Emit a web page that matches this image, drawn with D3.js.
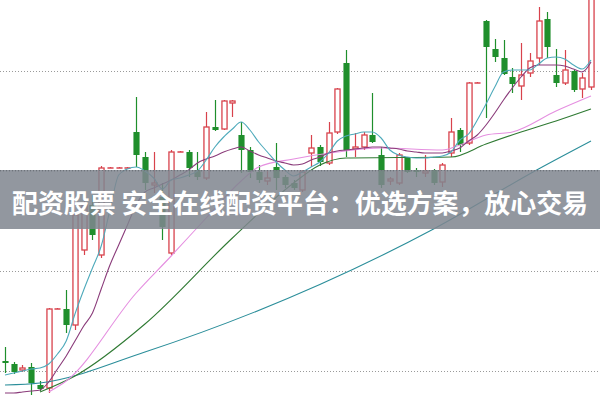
<!DOCTYPE html>
<html><head><meta charset="utf-8">
<script src="https://cdn.jsdelivr.net/npm/d3@7"></script>
<style>html,body{margin:0;padding:0;background:#fff;overflow:hidden}</style>
</head><body><svg id="c" width="600" height="400"></svg>
<script>
// ---- data (prices) ----
const openP  = [9.10,9.07,9.01,9.04,8.86,8.83,9.61,9.62,9.46,10.21,10.66,10.16,11.02,11.02,11.02,11.39,11.14,10.86,10.74,10.18,11.18,11.19,11.01,10.93,11.44,11.42,11.68,11.36,11.21,10.99,10.90,11.04,10.94,10.88,10.81,11.18,11.24,11.08,11.39,12.08,11.22,11.24,11.36,11.16,10.90,10.88,11.13,11.01,10.98,11.01,10.89,11.18,11.41,11.28,11.87,12.50,12.22,12.13,11.94,11.85,11.98,12.13,12.52,11.96,11.88,12.00,11.82,11.84];
const closeP = [9.08,8.99,9.03,8.88,8.82,9.62,9.62,9.46,10.56,10.66,10.36,11.03,11.03,11.03,11.03,11.16,10.88,10.88,10.44,11.19,11.19,11.03,10.94,11.44,11.41,11.70,11.70,11.21,10.99,10.91,10.93,10.93,10.86,10.83,10.99,11.23,11.09,11.38,11.82,11.21,11.24,11.36,11.29,10.86,10.92,11.16,10.99,10.99,11.00,10.88,11.06,11.39,11.26,11.88,11.88,12.24,12.14,11.97,11.87,11.96,12.10,12.50,12.24,11.88,12.01,11.81,11.93,12.76];
const highP  = [9.24,9.09,9.06,9.08,8.90,9.63,9.63,9.81,10.59,10.71,10.76,11.05,11.04,11.04,11.04,11.74,11.19,11.19,10.88,11.21,11.20,11.21,11.19,11.59,11.71,11.71,11.71,11.49,11.24,11.06,11.01,11.28,10.96,10.91,11.01,11.36,11.26,11.49,11.83,12.21,11.38,11.39,11.78,11.24,10.94,11.18,11.14,11.03,11.16,11.02,11.08,11.53,11.43,11.89,11.89,12.51,12.32,12.31,12.03,12.28,12.18,12.64,12.59,12.22,12.21,12.01,11.98,12.81];
const lowP   = [8.98,8.97,8.99,8.76,8.80,8.78,9.61,9.38,9.41,10.16,10.31,10.13,11.02,11.02,11.02,11.04,10.81,10.78,10.31,10.16,11.18,10.94,10.91,10.91,11.40,11.41,11.54,10.98,10.93,10.88,10.86,10.81,10.83,10.81,10.79,11.04,11.05,11.06,11.37,11.14,11.14,11.21,11.28,10.83,10.86,10.86,10.98,10.94,10.94,10.86,10.84,11.14,11.19,11.26,11.87,11.53,12.09,11.96,11.78,11.71,11.94,12.06,12.13,11.84,11.86,11.79,11.73,11.81];

// moving average lines
const ma5  = [8.96,8.98,9.00,9.02,9.03,9.07,9.17,9.30,9.57,9.81,10.03,10.25,10.61,10.96,11.02,11.04,11.00,10.93,10.82,10.91,10.93,10.96,11.00,11.11,11.24,11.34,11.42,11.49,11.41,11.29,11.19,11.09,11.01,10.95,10.99,11.04,11.09,11.18,11.30,11.35,11.37,11.39,11.39,11.33,11.21,11.16,11.14,11.13,11.13,11.14,11.15,11.19,11.31,11.37,11.51,11.67,11.84,11.99,12.01,12.01,12.01,12.07,12.13,12.14,12.12,12.06,12.02,12.11];
const ma10 = [8.78,8.78,8.79,8.80,8.81,8.89,9.02,9.15,9.30,9.45,9.58,9.82,10.06,10.26,10.46,10.66,10.79,10.83,10.87,10.91,10.96,11.01,11.08,11.12,11.15,11.19,11.22,11.24,11.20,11.16,11.13,11.10,11.08,11.06,11.07,11.11,11.14,11.18,11.20,11.21,11.22,11.23,11.24,11.24,11.23,11.22,11.20,11.19,11.18,11.18,11.18,11.20,11.23,11.30,11.36,11.46,11.58,11.71,11.83,11.94,12.03,12.06,12.06,12.06,12.05,12.02,11.99,12.09];
const ma20Idx = [5,7,15,19,23,27,29,33,38,43,50,52,55,58,63,67];
const ma20    = [8.79,8.90,9.78,10.15,10.53,10.90,11.04,11.12,11.19,11.23,11.21,11.26,11.36,11.39,11.60,11.75];
const ma30Idx = [4,8,16,26,33,36,39,51,55,59,63,67];
const ma30    = [8.79,8.95,9.47,10.33,10.88,11.06,11.13,11.14,11.27,11.39,11.50,11.62];
const ma60Idx = [0,4,16,49,61,67];
const ma60    = [8.86,8.88,9.19,10.42,11.02,11.30];

const gridTicks = [9, 10, 11, 12];
const bannerText = "配资股票 安全在线配资平台：优选方案，放心交易";

// ---- chart ----
const W = 600, H = 400;
const svg = d3.select("#c");
const idx = d3.range(openP.length);
const x = d3.scaleBand().domain(idx).range([0.625, 595.375]).paddingInner(0.3).paddingOuter(0.15);
const cx = i => x(i) + x.bandwidth() / 2;
const y = d3.scaleLinear().domain([8.71, 12.71]).range([H, 0]);

const RED = "#d8424c", GREEN = "#1f8f2c";

// grid
svg.append("g").selectAll("line").data(gridTicks).join("line")
  .attr("x1", 0).attr("x2", W)
  .attr("y1", d => Math.round(y(d)) + 0.5).attr("y2", d => Math.round(y(d)) + 0.5)
  .attr("stroke", "#9a9a9a").attr("stroke-width", 1).attr("stroke-dasharray", "1,2");

// candles
const g = svg.append("g");
idx.forEach(i => {
  const o = openP[i], c = closeP[i], h = highP[i], l = lowP[i];
  const up = c >= o;
  const col = up ? RED : GREEN;
  const top = y(Math.max(o, c)), bot = y(Math.min(o, c));
  const xc = Math.round(cx(i)) + 0.5;
  const bw = x.bandwidth();
  const bh = Math.max(1, bot - top);
  g.append("line").attr("x1", xc).attr("x2", xc).attr("y1", y(h)).attr("y2", top)
    .attr("stroke", col).attr("stroke-width", 1.2);
  g.append("line").attr("x1", xc).attr("x2", xc).attr("y1", bot).attr("y2", y(l))
    .attr("stroke", col).attr("stroke-width", 1.2);
  if (bh <= 1.5) {
    g.append("line").attr("x1", xc - bw / 2).attr("x2", xc + bw / 2).attr("y1", top).attr("y2", top)
      .attr("stroke", col).attr("stroke-width", 1.5);
  } else if (up) {
    g.append("rect").attr("x", xc - bw / 2 + 0.5).attr("y", top).attr("width", bw - 1).attr("height", bh)
      .attr("fill", "#fff").attr("stroke", col).attr("stroke-width", 1.3);
  } else {
    g.append("rect").attr("x", xc - bw / 2).attr("y", top).attr("width", bw).attr("height", bh)
      .attr("fill", col);
  }
});

// MA lines
const lineFull = d3.line().x((d, i) => cx(i)).y(d => y(d)).curve(d3.curveMonotoneX);
const lineSparse = ix => d3.line().x((d, k) => cx(ix[k])).y(d => y(d)).curve(d3.curveMonotoneX);
const lines = [
  { path: lineSparse(ma60Idx)(ma60), color: "#2b8e9a" },
  { path: lineSparse(ma30Idx)(ma30), color: "#2f7a33" },
  { path: lineSparse(ma20Idx)(ma20), color: "#e58fe0" },
  { path: lineFull(ma10), color: "#8a3b7a" },
  { path: lineFull(ma5), color: "#4eaabb" }
];
svg.append("g").selectAll("path").data(lines).join("path")
  .attr("d", d => d.path).attr("fill", "none").attr("stroke", d => d.color).attr("stroke-width", 1.1);

// banner
svg.append("rect").attr("x", 0).attr("y", 170).attr("width", W).attr("height", 59)
  .attr("fill", "#80868f").attr("fill-opacity", 0.86);
svg.append("line").attr("x1", 0).attr("x2", W).attr("y1", 170.5).attr("y2", 170.5)
  .attr("stroke", "#6e737a").attr("stroke-dasharray", "1,2");
svg.append("text").attr("x", W / 2).attr("y", 213).attr("text-anchor", "middle")
  .attr("font-family", "'Noto Sans CJK SC', sans-serif").attr("font-weight", "bold")
  .attr("font-size", 26).attr("textLength", 576).attr("lengthAdjust", "spacingAndGlyphs")
  .attr("fill", "#fff").text(bannerText);
</script>
</body></html>
